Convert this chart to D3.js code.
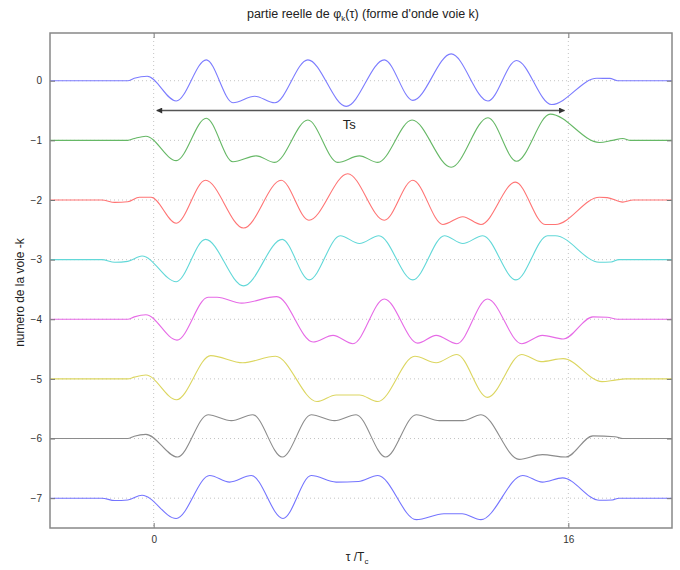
<!DOCTYPE html>
<html>
<head>
<meta charset="utf-8">
<script src="https://cdn.jsdelivr.net/npm/d3@7"></script>
<style>
  body { margin: 0; background: #fff; }
  svg { display: block; font-family: "Liberation Sans", Arial, sans-serif; }
</style>
</head>
<body>
<svg id="chart" width="680" height="570"></svg>
<script>
// ---- data ----
const xTicks = [0, 16];
const yTicks = [-7, -6, -5, -4, -3, -2, -1, 0];
const voies = [0, 1, 2, 3, 4, 5, 6, 7];
const colors = ["#7c7cff", "#66b866", "#ff7474", "#62d8d8", "#e66ae6", "#dcd660", "#8c8c8c", "#7474ff"];

// [tau/Tc, real part] for each channel k (offset -k applied when drawing)
const voie0 = [[-4,0],[-1.0,0],[-0.75,0.04],[-0.25,0.075],[0.87,-0.34],[2.03,0.35],[3.06,-0.37],[3.9,-0.26],[4.67,-0.37],[5.95,0.35],[7.43,-0.43],[8.9,0.35],[10.0,-0.33],[11.48,0.45],[12.9,-0.34],[14.0,0.34],[15.35,-0.40],[17.1,0.04],[17.6,0.04],[17.9,0],[20,0]];
const voie1 = [[-4,0],[-1.0,0],[-0.75,0.03],[-0.3,0.07],[0.87,-0.34],[2.03,0.37],[3.06,-0.36],[3.96,-0.26],[4.67,-0.37],[5.95,0.34],[7.1,-0.37],[7.94,-0.26],[8.65,-0.37],[9.97,0.34],[11.48,-0.45],[12.9,0.38],[14.0,-0.35],[15.3,0.44],[17.2,-0.035],[17.7,0],[18.1,0.03],[18.4,0],[20,0]];
const voie2 = [[-4,0],[-2.0,0],[-1.5,-0.04],[-1.0,-0.03],[-0.55,0.045],[-0.1,0.045],[0.87,-0.39],[2.0,0.33],[3.47,-0.47],[4.92,0.33],[5.99,-0.34],[7.49,0.44],[8.9,-0.34],[10.0,0.33],[11.16,-0.41],[11.93,-0.28],[12.63,-0.41],[13.96,0.30],[15.1,-0.41],[15.5,-0.41],[17.2,0.045],[17.5,0.04],[18.1,-0.035],[18.5,0],[20,0]];
const voie3 = [[-4,0],[-2.0,0],[-1.5,-0.045],[-1.0,-0.03],[-0.45,0.06],[0.87,-0.37],[2.0,0.34],[3.47,-0.44],[4.96,0.34],[6.0,-0.34],[7.2,0.40],[7.94,0.27],[8.69,0.40],[10.0,-0.34],[11.22,0.40],[11.93,0.27],[12.7,0.40],[13.98,-0.34],[15.2,0.40],[15.5,0.40],[17.2,-0.045],[17.65,-0.04],[17.95,0],[20,0]];
const voie4 = [[-4,0],[-1.0,0],[-0.75,0.04],[-0.3,0.075],[0.9,-0.35],[2.1,0.37],[2.45,0.37],[3.4,0.27],[4.75,0.38],[6.15,-0.38],[6.92,-0.27],[7.69,-0.41],[8.9,0.34],[10.19,-0.40],[10.9,-0.27],[11.7,-0.41],[12.88,0.34],[14.2,-0.41],[15.0,-0.27],[15.8,-0.33],[16.95,0.04],[17.5,0.035],[17.9,0],[20,0]];
const voie5 = [[-4,0],[-1.0,0],[-0.75,0.03],[-0.3,0.065],[0.88,-0.35],[2.2,0.39],[3.44,0.27],[4.7,0.38],[6.3,-0.38],[7.04,-0.27],[7.94,-0.27],[8.65,-0.38],[10.08,0.38],[10.9,0.27],[11.7,0.41],[12.88,-0.31],[14.2,0.41],[14.95,0.29],[15.8,0.34],[17.3,-0.045],[17.8,-0.02],[18.2,0],[20,0]];
const voie6 = [[-4,0],[-1.0,0],[-0.75,0.04],[-0.3,0.07],[0.92,-0.31],[2.1,0.40],[3.0,0.30],[3.82,0.40],[4.96,-0.31],[6.08,0.40],[6.98,0.30],[7.81,0.40],[8.95,-0.31],[10.13,0.40],[11.03,0.30],[11.93,0.30],[12.63,0.40],[14.1,-0.35],[15.0,-0.27],[15.9,-0.31],[16.95,0.045],[17.8,0.03],[18.1,0],[20,0]];
const voie7 = [[-4,0],[-2.0,0],[-1.5,-0.04],[-1.0,-0.03],[-0.45,0.05],[0.87,-0.34],[2.16,0.38],[2.93,0.27],[3.77,0.38],[4.99,-0.34],[6.08,0.38],[7.04,0.27],[7.9,0.28],[8.65,0.38],[10.13,-0.36],[11.2,-0.26],[11.9,-0.26],[12.63,-0.36],[14.24,0.38],[15.0,0.27],[15.78,0.34],[17.2,-0.035],[17.7,-0.03],[17.95,0],[20,0]];
const series = [voie0, voie1, voie2, voie3, voie4, voie5, voie6, voie7];

const tsArrow = [0.12, 15.85];   // arrow extent in tau/Tc
const tsLevel = -0.5;
const tsLabel = "Ts";

// ---- layout ----
const svg = d3.select("#chart");
const L = 50, R = 672, T = 33, B = 528;
const x = d3.scaleLinear().domain([-4, 20]).range([L, R]);
const y = d3.scaleLinear().domain([-7.5, 0.8]).range([B, T]);

// grid
const grid = svg.append("g").attr("stroke", "#c4c4c4").attr("stroke-width", 1).attr("stroke-dasharray", "1,3");
grid.selectAll("line.h").data(yTicks).join("line")
  .attr("x1", L).attr("x2", R).attr("y1", d => y(d)).attr("y2", d => y(d));
grid.selectAll("line.v").data(xTicks).join("line")
  .attr("y1", T).attr("y2", B).attr("x1", d => x(d)).attr("x2", d => x(d));

// curves
const line = d3.line().x(d => x(d[0])).curve(d3.curveMonotoneX);
series.forEach((s, i) => {
  const k = voies[i];
  svg.append("path")
    .datum(s)
    .attr("fill", "none")
    .attr("stroke", colors[i])
    .attr("stroke-width", 1.1)
    .attr("d", line.y(d => y(-k + d[1])));
});

// Ts arrow
const defs = svg.append("defs");
defs.append("marker").attr("id", "ah").attr("viewBox", "0 0 10 10")
  .attr("refX", 9).attr("refY", 5).attr("markerWidth", 9).attr("markerHeight", 6)
  .attr("markerUnits", "userSpaceOnUse").attr("orient", "auto-start-reverse")
  .append("path").attr("d", "M0,0 L10,5 L0,10 z").attr("fill", "#333");
svg.append("line")
  .attr("x1", x(tsArrow[0])).attr("x2", x(tsArrow[1]))
  .attr("y1", y(tsLevel)).attr("y2", y(tsLevel))
  .attr("stroke", "#555").attr("stroke-width", 1.6)
  .attr("marker-start", "url(#ah)").attr("marker-end", "url(#ah)");
svg.append("text").attr("x", x(7.3)).attr("y", y(tsLevel) + 18)
  .attr("font-size", 13).attr("fill", "#222").text(tsLabel);

// axes
const axG = svg.append("g").attr("font-size", 12);
axG.append("g").attr("transform", `translate(${L},0)`)
  .call(d3.axisLeft(y).tickValues(yTicks).tickSize(-5).tickPadding(8).tickFormat(d3.format("d")));
axG.append("g").attr("transform", `translate(${R},0)`)
  .call(d3.axisRight(y).tickValues(yTicks).tickSize(-5).tickFormat(""));
axG.append("g").attr("transform", `translate(0,${B})`)
  .call(d3.axisBottom(x).tickValues(xTicks).tickSize(-5).tickPadding(8).tickFormat(d3.format("d")));
axG.append("g").attr("transform", `translate(0,${T})`)
  .call(d3.axisTop(x).tickValues(xTicks).tickSize(-5).tickFormat(""));
axG.selectAll(".domain").remove();
axG.selectAll(".tick line").attr("stroke", "#777");
axG.selectAll(".tick text").attr("fill", "#333").attr("font-family", "Liberation Sans, Arial, sans-serif");

// box
svg.append("rect").attr("x", L).attr("y", T).attr("width", R - L).attr("height", B - T)
  .attr("fill", "none").attr("stroke", "#888").attr("stroke-width", 1.5);

// title
const title = svg.append("text").attr("x", (L + R) / 2 + 2).attr("y", 18)
  .attr("text-anchor", "middle").attr("font-size", 12.5).attr("fill", "#222");
title.append("tspan").text("partie reelle de φ");
title.append("tspan").attr("font-size", 8).attr("dy", 3).text("k");
title.append("tspan").attr("dy", -3).text("(τ) (forme d'onde voie k)");

// x label
const xl = svg.append("text").attr("x", (L + R) / 2 - 4).attr("y", 561)
  .attr("text-anchor", "middle").attr("font-size", 12).attr("fill", "#222");
xl.append("tspan").text("τ /T");
xl.append("tspan").attr("font-size", 8).attr("dy", 3).text("c");

// y label
svg.append("text").attr("transform", `translate(24,${(T + B) / 2 + 12}) rotate(-90)`)
  .attr("text-anchor", "middle").attr("font-size", 12).attr("fill", "#222")
  .text("numero de la voie -k");
</script>
</body>
</html>
